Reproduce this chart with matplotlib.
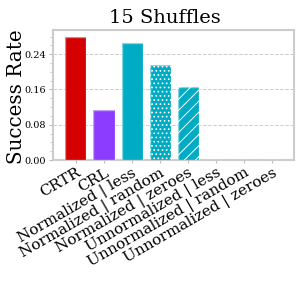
import matplotlib
matplotlib.use("Agg")
import matplotlib.pyplot as plt
from matplotlib.ticker import MultipleLocator

categories = ["CRTR", "CRL", "Normalized | less", "Normalized | random",
              "Normalized | zeroes", "Unnormalized | less", "Unnormalized | random",
              "Unnormalized | zeroes"]
values = [0.278, 0.113, 0.265, 0.215, 0.165, 0.0, 0.0, 0.0]
colors = ["#d50000", "#8c3cff", "#00abc4", "#00abc4", "#00abc4", "#00abc4", "#00abc4", "#00abc4"]
hatches = ["", "", "", "....", "///", "", "", ""]
yticks = [0.00, 0.08, 0.16, 0.24]

plt.rcParams['font.family'] = ['DejaVu Serif']
plt.rcParams['hatch.linewidth'] = 0.7

fig = plt.figure(figsize=(2.99, 2.99), dpi=100)
ax = fig.add_axes([53/299, 1-160/299, 241/299, 130/299])

x = list(range(len(categories)))
for i in x:
    ax.bar(i, values[i], width=0.75, color=colors[i], hatch=hatches[i] or None,
           edgecolor="white", linewidth=0, zorder=3)
    ax.bar(i, values[i], width=0.75, fill=False, edgecolor="white", alpha=0.5,
           linewidth=1.0, zorder=4)

ax.set_xlim(-0.82, 7.78)
ax.set_ylim(0, 0.295)
ax.set_yticks(yticks)
ax.set_yticklabels([f"{v:.2f}" for v in yticks], fontsize=7)
ax.yaxis.set_minor_locator(MultipleLocator(0.02))
ax.tick_params(axis='y', which='major', length=3, color="#bbbbbb", pad=2)
ax.tick_params(axis='y', which='minor', length=2, color="#bbbbbb")
ax.set_xticks(x)
ax.set_xticklabels(categories, rotation=30, ha='right', rotation_mode='anchor', fontsize=11)
ax.tick_params(axis='x', length=2, color="#bbbbbb", pad=2)
ax.grid(axis='y', linestyle='--', color="#cccccc", linewidth=0.7, zorder=0)
for s in ax.spines.values():
    s.set_color("#cccccc")
    s.set_linewidth(1.5)
ax.set_ylabel("Success Rate", fontsize=14.3)
ax.yaxis.set_label_coords(-0.112, 0.49)
ax.set_title("15 Shuffles", fontsize=14, pad=5, x=0.465)

fig.savefig("out.png", dpi=100)
